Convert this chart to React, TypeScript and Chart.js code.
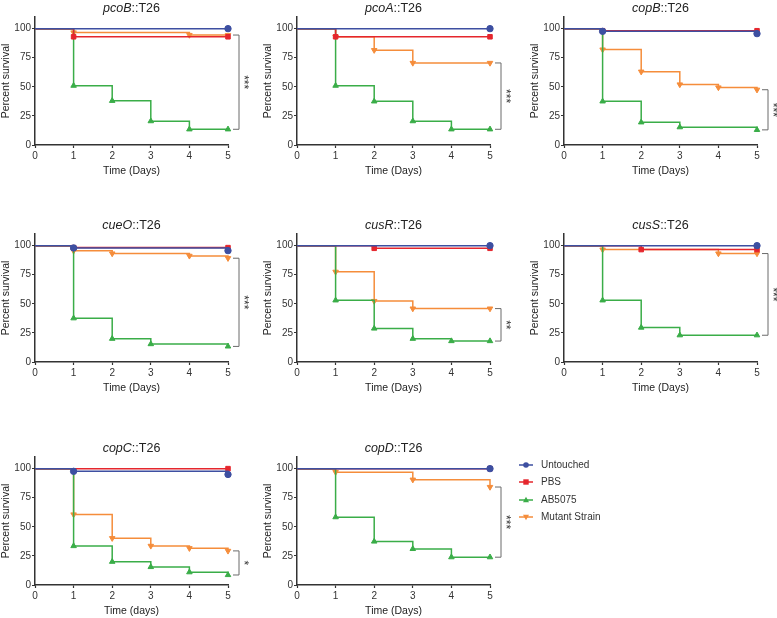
import React, { useEffect, useRef } from 'react';
import { Chart, registerables } from 'chart.js';

Chart.register(...registerables);

// ---------------- DATA ----------------
const DAYS = [0, 1, 2, 3, 4, 5];
const X_TICKS = [0, 1, 2, 3, 4, 5];
const Y_TICKS = [0, 25, 50, 75, 100];
const GENES = ['pcoB', 'pcoA', 'copB', 'cueO', 'cusR', 'cusS', 'copC', 'copD'];
const X_TITLES = ['Time (Days)', 'Time (Days)', 'Time (Days)', 'Time (Days)', 'Time (Days)', 'Time (Days)', 'Time (days)', 'Time (Days)'];
const SIGNIF = ['***', '***', '***', '***', '**', '***', '*', '***'];
const SERIES_NAMES = ['Untouched', 'PBS', 'AB5075', 'Mutant Strain'];

// percent survival at days 0..5, one row per panel (same order as GENES)
const UNTOUCHED = [
  [100, 100, 100, 100, 100, 100],
  [100, 100, 100, 100, 100, 100],
  [100, 97.7, 97.7, 97.7, 97.7, 95.7],
  [100, 98, 98, 98, 98, 95.7],
  [100, 100, 100, 100, 100, 100],
  [100, 100, 100, 100, 100, 100],
  [100, 97.7, 97.7, 97.7, 97.7, 95],
  [100, 100, 100, 100, 100, 100],
];
const PBS = [
  [100, 93, 93, 93, 93, 93],
  [100, 93, 93, 93, 93, 93],
  [100, 98.2, 98.2, 98.2, 98.2, 98.2],
  [100, 98.3, 98.3, 98.3, 98.3, 98.3],
  [100, 100, 97.7, 97.7, 97.7, 97.7],
  [100, 100, 96.6, 96.6, 96.6, 96.6],
  [100, 100, 100, 100, 100, 100],
  [100, 100, 100, 100, 100, 100],
];
const AB5075 = [
  [100, 51, 38, 20.5, 13.5, 13.5],
  [100, 51, 37.5, 20.5, 13.5, 13.5],
  [100, 37.5, 19.5, 15.3, 15.3, 13],
  [100, 37.6, 20, 15.4, 15.4, 13.4],
  [100, 53, 28.8, 20, 18, 18],
  [100, 53, 29.6, 23, 23, 23],
  [100, 33.5, 20, 15.5, 11, 8.6],
  [100, 58.3, 37.4, 31, 23.9, 23.9],
];
const MUTANT = [
  [100, 96.7, 96.7, 96.7, 94.5, 94.5],
  [100, 93, 81.5, 70.5, 70.5, 70.5],
  [100, 82, 63, 52, 49.4, 47.5],
  [100, 95.5, 93.2, 93.2, 91.2, 89.2],
  [100, 77.5, 52.4, 45.9, 45.9, 45.9],
  [100, 96.6, 96.6, 96.6, 93.2, 93.2],
  [100, 60.6, 40.2, 33.6, 31.6, 29.3],
  [100, 97, 97, 90.5, 90.5, 84.2],
];

// ---------------- STYLE ----------------
const FONT = '"Liberation Sans", Arial, Helvetica, sans-serif';
const COLORS = ['#3d4fa1', '#e5262d', '#3aad48', '#f58d3b'];
const POINT_STYLES = ['circle', 'rect', 'triangle', 'triangle'];
const ROTATIONS = [0, 0, 0, 180];

const AREA_LEFT = [35, 297, 564];
const AREA_TOP = [17, 234, 457];
const AREA_W = 193;
const AREA_H = 128;
const Y_AXIS_W = 35;
const X_AXIS_H = 32;
const PAD_TOP = 17;
const CANVAS_W = 255;
const CANVAS_H = 195;

Chart.defaults.font.family = FONT;

const bracketPlugin = {
  id: 'bracket',
  afterDraw(chart: any, _args: any, opts: any) {
    const { ctx, chartArea, scales } = chart;
    const y = scales.y;
    const y1 = y.getPixelForValue(opts.top);
    const y2 = y.getPixelForValue(opts.bottom);
    const x0 = chartArea.right + 5;
    const x1 = chartArea.right + 11;
    ctx.save();
    ctx.strokeStyle = '#6b6b6b';
    ctx.lineWidth = 1;
    ctx.beginPath();
    ctx.moveTo(x0, y1);
    ctx.lineTo(x1, y1);
    ctx.lineTo(x1, y2);
    ctx.lineTo(x0, y2);
    ctx.stroke();
    ctx.translate(chartArea.right + 15, (y1 + y2) / 2);
    ctx.rotate(Math.PI / 2);
    ctx.fillStyle = '#333';
    ctx.font = `12px ${FONT}`;
    ctx.textAlign = 'center';
    ctx.textBaseline = 'middle';
    ctx.fillText(opts.label, 0, 0);
    ctx.restore();
  },
};

function Panel({ idx }: { idx: number }) {
  const ref = useRef<HTMLCanvasElement>(null);
  const col = idx % 3;
  const row = Math.floor(idx / 3);
  const left = AREA_LEFT[col] - Y_AXIS_W;
  const top = AREA_TOP[row] - PAD_TOP;

  useEffect(() => {
    if (!ref.current) return;
    const series = [UNTOUCHED[idx], PBS[idx], AB5075[idx], MUTANT[idx]];
    const datasets = series.map((vals, s) => ({
      label: SERIES_NAMES[s],
      data: DAYS.map((d, i) => ({ x: d, y: vals[i] })),
      borderColor: COLORS[s],
      backgroundColor: COLORS[s],
      borderWidth: 1.5,
      stepped: 'before' as const,
      pointStyle: POINT_STYLES[s],
      rotation: ROTATIONS[s],
      pointRadius: vals.map((v, i) => (i > 0 && (v !== vals[i - 1] || i === vals.length - 1) ? 3.2 : 0)),
      pointBorderWidth: 1,
      clip: false as any,
    }));
    const mut = MUTANT[idx];
    const ab = AB5075[idx];
    const chart = new Chart(ref.current, {
      type: 'line',
      data: { datasets },
      plugins: [bracketPlugin],
      options: {
        animation: false,
        responsive: false,
        layout: {
          padding: {
            top: PAD_TOP,
            left: 0,
            right: CANVAS_W - Y_AXIS_W - AREA_W,
            bottom: CANVAS_H - PAD_TOP - AREA_H - X_AXIS_H,
          },
        },
        plugins: {
          legend: { display: false },
          tooltip: { enabled: false },
          bracket: { top: mut[mut.length - 1], bottom: ab[ab.length - 1], label: SIGNIF[idx] },
        } as any,
        scales: {
          x: {
            type: 'linear',
            min: 0,
            max: 5,
            afterBuildTicks: (s: any) => {
              s.ticks = X_TICKS.map((v) => ({ value: v }));
            },
            afterFit: (s: any) => {
              s.height = X_AXIS_H;
            },
            grid: { display: true, drawOnChartArea: false, drawTicks: true, tickLength: 3, color: '#333', tickColor: '#333', tickWidth: 1.2 },
            border: { display: true, color: '#333', width: 1.5 },
            ticks: { font: { size: 10, family: FONT }, color: '#333', padding: 2, maxRotation: 0, autoSkip: false },
            title: { display: true, text: X_TITLES[idx], font: { size: 10.5, family: FONT }, color: '#222', padding: 0 },
          },
          y: {
            type: 'linear',
            min: 0,
            max: 110,
            afterBuildTicks: (s: any) => {
              s.ticks = Y_TICKS.map((v) => ({ value: v }));
            },
            afterFit: (s: any) => {
              s.width = Y_AXIS_W;
            },
            grid: { display: true, drawOnChartArea: false, drawTicks: true, tickLength: 3, color: '#333', tickColor: '#333', tickWidth: 1.2 },
            border: { display: true, color: '#333', width: 1.5 },
            ticks: { font: { size: 10, family: FONT }, color: '#333', padding: 1 },
            title: { display: true, text: 'Percent survival', font: { size: 10.5, family: FONT }, color: '#222', padding: 0 },
          },
        },
      },
    });
    return () => chart.destroy();
  }, [idx]);

  return (
    <>
      <canvas
        ref={ref}
        width={CANVAS_W}
        height={CANVAS_H}
        style={{ position: 'absolute', left, top, width: CANVAS_W, height: CANVAS_H }}
      />
      <div
        style={{
          position: 'absolute',
          left: AREA_LEFT[col],
          top: AREA_TOP[row] - 17,
          width: AREA_W,
          height: 16,
          lineHeight: '16px',
          textAlign: 'center',
          fontFamily: FONT,
          fontSize: 12.5,
          color: '#222',
          whiteSpace: 'nowrap',
        }}
      >
        <i>{GENES[idx]}</i>::T26
      </div>
    </>
  );
}

function LegendIcon({ s }: { s: number }) {
  const c = COLORS[s];
  let marker: React.ReactNode = null;
  if (s === 0) marker = <circle cx={8} cy={5} r={2.8} fill={c} />;
  else if (s === 1) marker = <rect x={5.3} y={2.3} width={5.4} height={5.4} fill={c} />;
  else if (s === 2) marker = <polygon points="8,1.8 11,7.2 5,7.2" fill={c} />;
  else marker = <polygon points="8,8.2 11,2.8 5,2.8" fill={c} />;
  return (
    <svg width={16} height={10} style={{ position: 'absolute', left: 0, top: 2 }}>
      <line x1={1} y1={5} x2={15} y2={5} stroke={c} strokeWidth={1.5} />
      {marker}
    </svg>
  );
}

function Legend() {
  return (
    <>
      {SERIES_NAMES.map((name, s) => (
        <div
          key={name}
          style={{ position: 'absolute', left: 518, top: 465 + s * 17.4 - 7, height: 14, width: 200 }}
        >
          <LegendIcon s={s} />
          <span
            style={{
              position: 'absolute',
              left: 23,
              top: 0,
              lineHeight: '14px',
              fontFamily: FONT,
              fontSize: 10,
              color: '#333',
              whiteSpace: 'nowrap',
            }}
          >
            {name}
          </span>
        </div>
      ))}
    </>
  );
}

export default function App() {
  return (
    <div
      style={{
        position: 'absolute',
        left: 0,
        top: 0,
        width: 777,
        height: 618,
        overflow: 'hidden',
        background: '#fff',
      }}
    >
      {GENES.map((g, i) => (
        <Panel key={g} idx={i} />
      ))}
      <Legend />
    </div>
  );
}
